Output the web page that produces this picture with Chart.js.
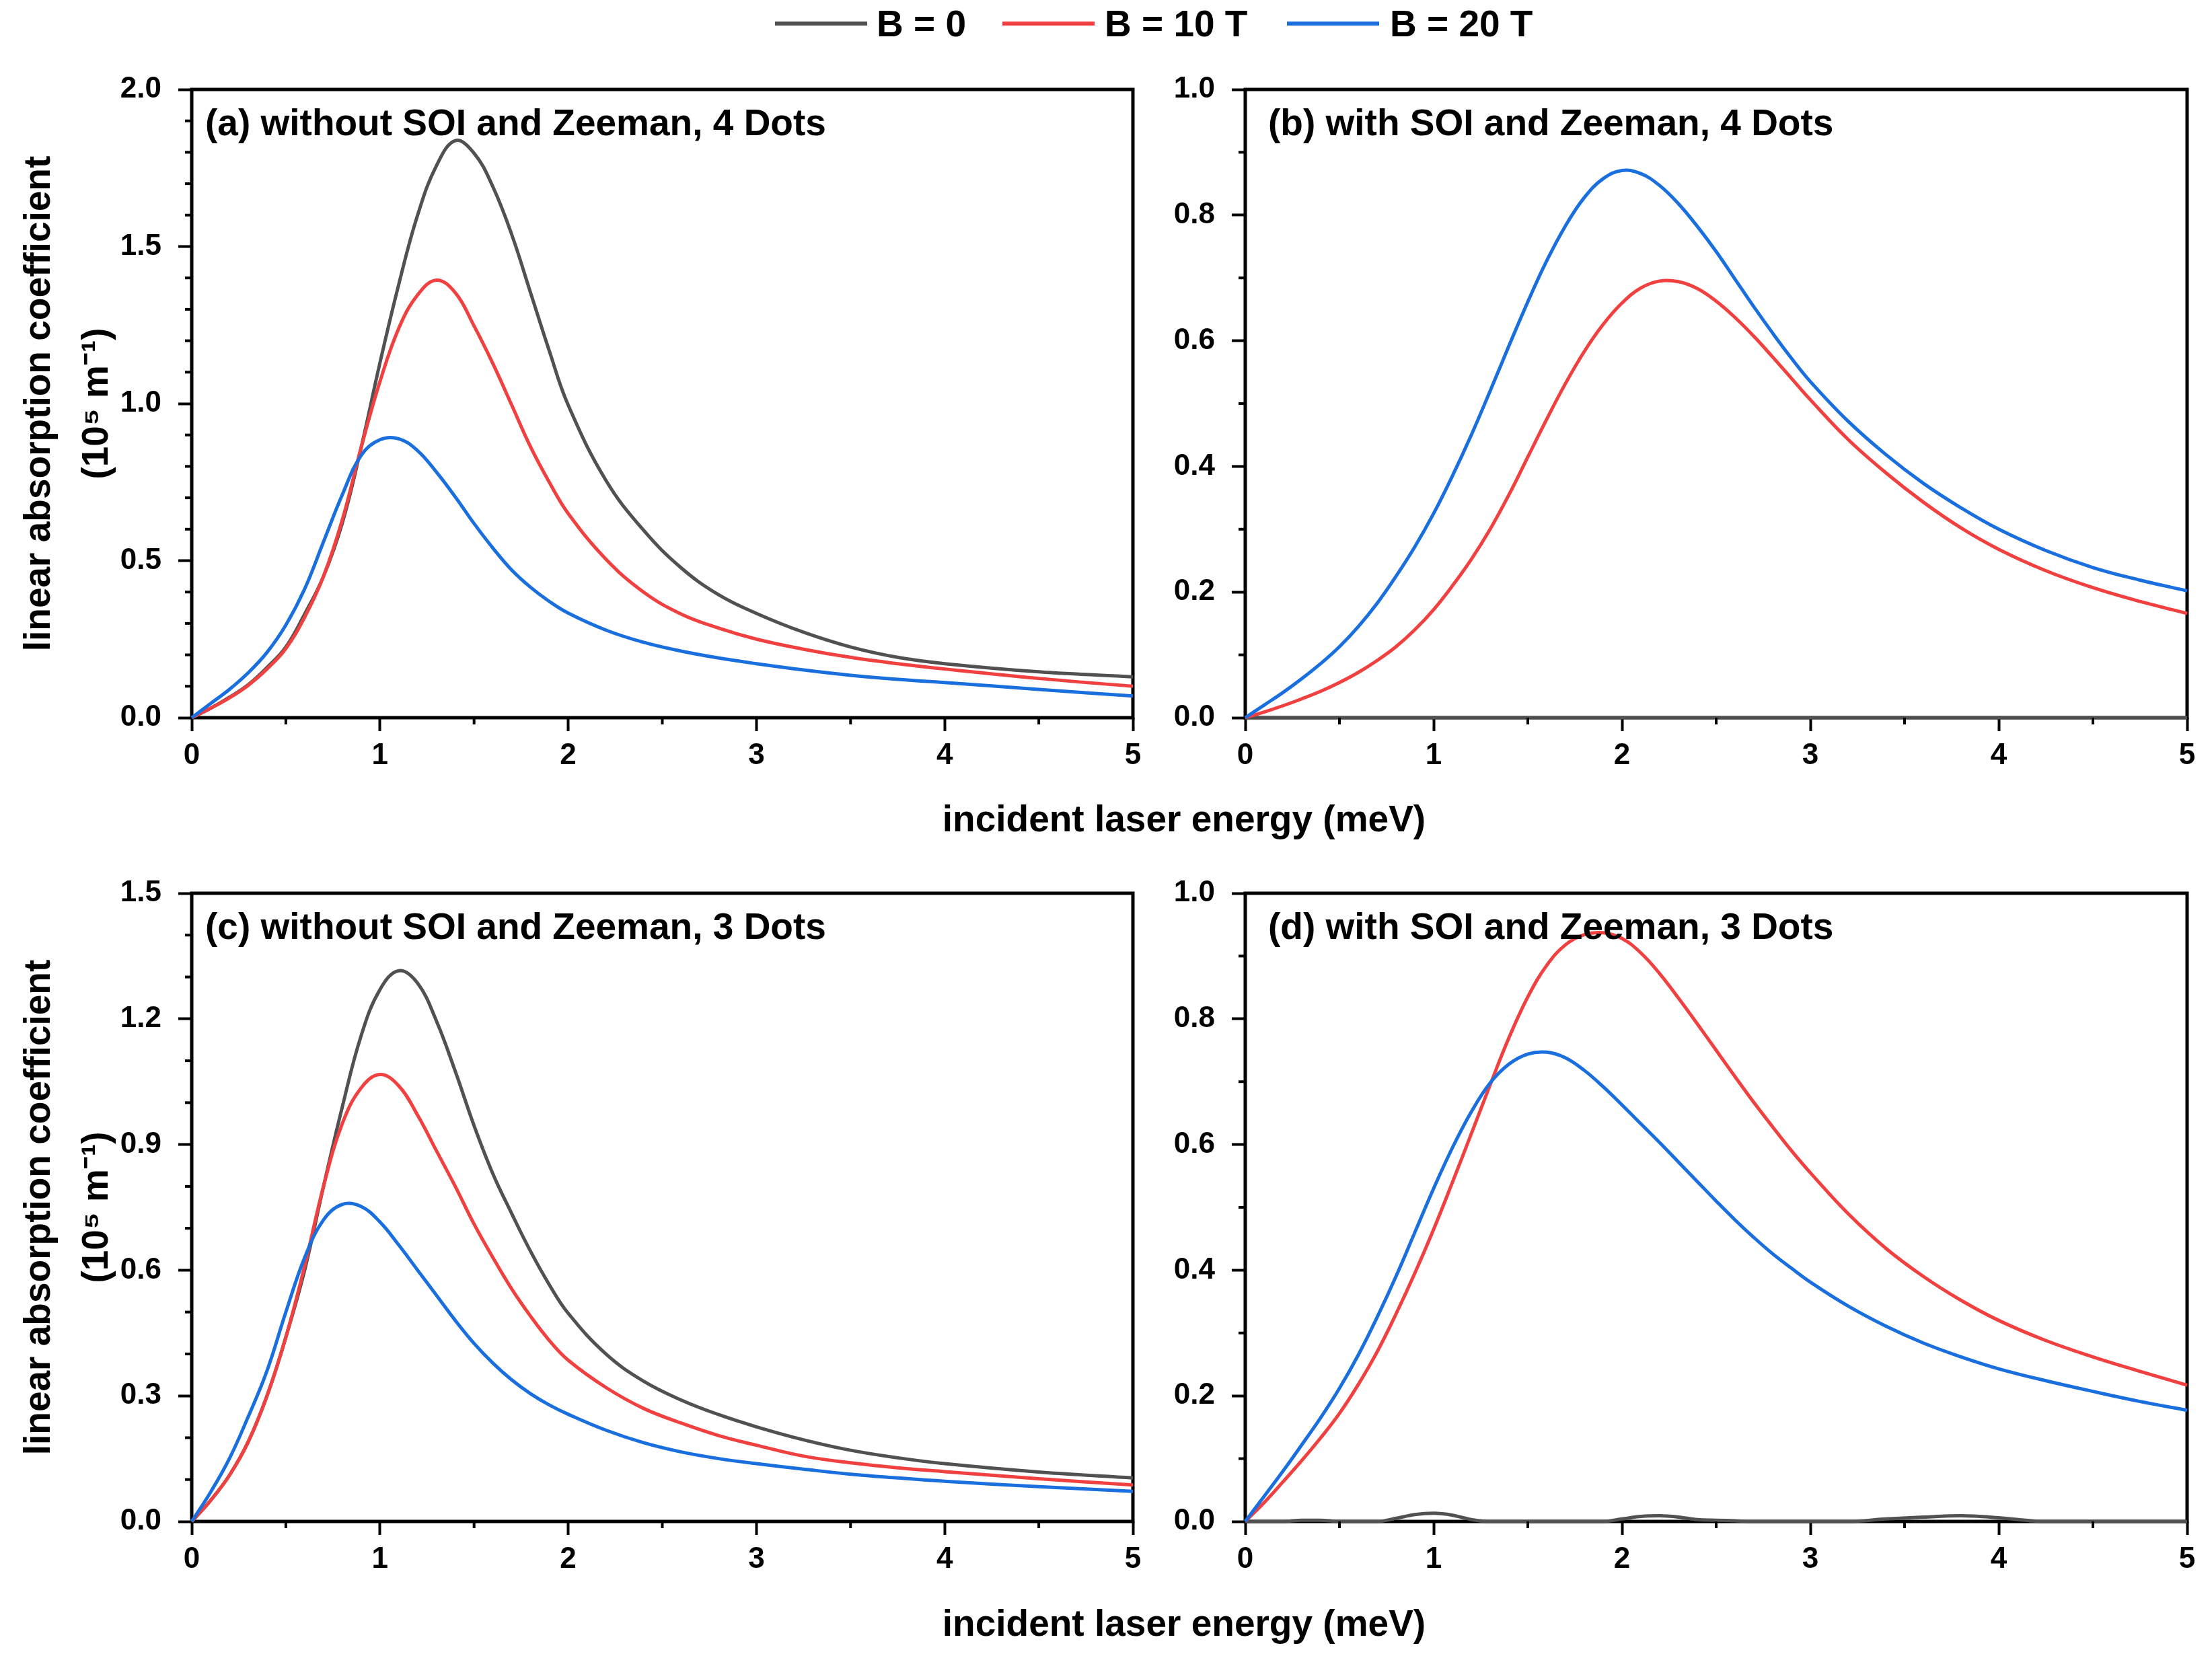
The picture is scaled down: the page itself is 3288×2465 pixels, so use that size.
<!DOCTYPE html>
<html>
<head>
<meta charset="utf-8">
<script src="https://cdn.jsdelivr.net/npm/chart.js@4.4.1/dist/chart.umd.min.js"></script>
<style>
body{margin:0;background:#fff;width:3288px;height:2465px;position:relative;overflow:hidden;
  font-family:"Liberation Sans",Arial,sans-serif;font-weight:bold;color:#000}
.caja{position:absolute}
.texto{position:absolute;font-size:55px;line-height:1;white-space:nowrap}
.linea{position:absolute;height:6px;width:137px;top:32px}
</style>
</head>
<body>

<!-- leyenda comun -->
<div class="linea" style="left:1152px;background:#515151"></div>
<div class="texto" style="left:1303px;top:8px">B = 0</div>
<div class="linea" style="left:1490px;background:#F14040"></div>
<div class="texto" style="left:1642px;top:8px">B = 10 T</div>
<div class="linea" style="left:1913px;background:#1A6FDF"></div>
<div class="texto" style="left:2066px;top:8px">B = 20 T</div>

<div class="caja" style="left:0;top:73px"><canvas id="g_a" width="1724" height="1114"></canvas></div>
<div class="caja" style="left:1651px;top:73px"><canvas id="g_b" width="1637" height="1114"></canvas></div>
<div class="caja" style="left:0;top:1268px"><canvas id="g_c" width="1724" height="1114"></canvas></div>
<div class="caja" style="left:1651px;top:1268px"><canvas id="g_d" width="1637" height="1114"></canvas></div>

<!-- etiquetas de cada panel -->
<div class="texto" style="left:305px;top:155px">(a) without SOI and Zeeman, 4 Dots</div>
<div class="texto" style="left:1885px;top:155px">(b) with SOI and Zeeman, 4 Dots</div>
<div class="texto" style="left:305px;top:1350px">(c) without SOI and Zeeman, 3 Dots</div>
<div class="texto" style="left:1885px;top:1350px">(d) with SOI and Zeeman, 3 Dots</div>

<div class="texto" style="left:1760px;top:1190px;transform:translateX(-50%)">incident laser energy (meV)</div>
<div class="texto" style="left:1760px;top:2386px;transform:translateX(-50%)">incident laser energy (meV)</div>

<script>
// energias (meV) de los paneles (a) y (c)
const x_ac = [0,0.1,0.2,0.3,0.4,0.5,0.6,0.7,0.8,0.9,1.0,1.1,1.2,1.3,1.4,1.5,1.6,1.7,1.8,1.9,2.0,
              2.2,2.4,2.6,2.8,3.0,3.25,3.5,3.75,4.0,4.5,5.0];
// energias (meV) de los paneles (b) y (d)
const x_bd = [0,0.1,0.2,0.3,0.4,0.5,0.6,0.7,0.8,0.9,1.0,1.1,1.2,1.3,1.4,1.5,1.6,1.7,1.8,1.9,2.0,
              2.1,2.2,2.3,2.4,2.5,2.6,2.7,2.8,2.9,3.0,3.2,3.4,3.6,3.8,4.0,4.25,4.5,4.75,5.0];

// (a) sin SOI ni Zeeman, 4 puntos
const a_B0  = [0,0.03,0.065,0.105,0.16,0.225,0.33,0.45,0.62,0.86,1.13,1.38,1.6,1.757,1.837,1.797,1.69,1.538,1.353,1.167,
               0.995,0.756,0.597,0.477,0.391,0.332,0.272,0.225,0.192,0.172,0.146,0.130];
const a_B10 = [0,0.03,0.063,0.103,0.155,0.22,0.32,0.45,0.63,0.86,1.07,1.24,1.346,1.393,1.353,1.247,1.127,0.995,0.862,0.749,
               0.65,0.505,0.40,0.33,0.285,0.25,0.218,0.192,0.172,0.155,0.125,0.10];
const a_B20 = [0,0.045,0.09,0.143,0.208,0.295,0.41,0.56,0.71,0.835,0.885,0.888,0.85,0.782,0.703,0.618,0.54,0.47,0.415,0.37,
               0.333,0.279,0.24,0.212,0.19,0.172,0.152,0.135,0.122,0.112,0.09,0.069];

// (b) con SOI y Zeeman, 4 puntos
const b_B0  = [0,0,0,0,0,0,0,0,0,0,0, 0,0,0,0,0,0,0,0,0,0, 0,0,0,0,0,0,0,0,0,0, 0,0,0,0,0,0,0,0,0];
const b_B10 = [0,0.009,0.019,0.03,0.042,0.056,0.072,0.091,0.113,0.14,0.172,
               0.21,0.252,0.3,0.355,0.415,0.475,0.532,0.583,0.626,0.66,
               0.684,0.695,0.694,0.683,0.663,0.637,0.607,0.574,0.54,0.506,
               0.443,0.39,0.343,0.302,0.268,0.234,0.207,0.185,0.166];
const b_B20 = [0,0.02,0.04,0.062,0.086,0.113,0.145,0.182,0.225,0.272,0.325,
               0.385,0.45,0.52,0.592,0.662,0.727,0.783,0.828,0.858,0.871,
               0.866,0.847,0.818,0.782,0.742,0.698,0.654,0.612,0.572,0.535,
               0.472,0.419,0.373,0.334,0.3,0.266,0.239,0.219,0.202];

// (c) sin SOI ni Zeeman, 3 puntos
const c_B0  = [0,0.05,0.11,0.19,0.3,0.44,0.6,0.8,0.99,1.16,1.27,1.315,1.285,1.195,1.075,0.945,0.83,0.735,0.645,0.565,
               0.497,0.4,0.335,0.29,0.255,0.226,0.195,0.17,0.152,0.138,0.118,0.104];
const c_B10 = [0,0.05,0.11,0.19,0.3,0.44,0.61,0.8,0.95,1.035,1.067,1.04,0.97,0.885,0.8,0.71,0.63,0.555,0.49,0.432,
               0.385,0.32,0.27,0.235,0.205,0.182,0.156,0.14,0.128,0.119,0.102,0.087];
const c_B20 = [0,0.07,0.15,0.25,0.36,0.5,0.63,0.72,0.757,0.752,0.715,0.66,0.6,0.54,0.48,0.425,0.378,0.338,0.305,0.278,
               0.256,0.218,0.188,0.166,0.15,0.138,0.125,0.113,0.104,0.096,0.083,0.072];

// (d) con SOI y Zeeman, 3 puntos
const d_B0  = [0,0,0,0.002,0.002,0,0,0,0.005,0.011,0.013,
               0.01,0.003,0,0,0,0,0,0,0,0.004,
               0.008,0.009,0.007,0.003,0.002,0.001,0,0,0,0,
               0,0.004,0.007,0.009,0.006,0,0,0,0];
const d_B10 = [0,0.03,0.063,0.097,0.133,0.172,0.218,0.27,0.33,0.395,0.465,
               0.54,0.617,0.695,0.77,0.835,0.885,0.918,0.934,0.937,0.928,
               0.905,0.872,0.833,0.792,0.75,0.708,0.667,0.628,0.59,0.555,
               0.49,0.435,0.39,0.352,0.32,0.288,0.262,0.239,0.217];
const d_B20 = [0,0.04,0.08,0.122,0.165,0.212,0.265,0.325,0.39,0.46,0.53,
               0.595,0.652,0.698,0.728,0.744,0.747,0.738,0.718,0.692,0.663,
               0.633,0.603,0.572,0.541,0.51,0.48,0.452,0.426,0.403,0.381,
               0.343,0.311,0.284,0.262,0.243,0.224,0.207,0.191,0.177];

// ticks
const x_mayor = [0,1,2,3,4,5];
const x_menor = [0.5,1.5,2.5,3.5,4.5];
const y_mayor_a = [0,0.5,1.0,1.5,2.0];
const y_mayor_b = [0,0.2,0.4,0.6,0.8,1.0];
const y_mayor_c = [0,0.3,0.6,0.9,1.2,1.5];
const y_mayor_d = [0,0.2,0.4,0.6,0.8,1.0];
const y_menor_a = [0.1,0.2,0.3,0.4,0.6,0.7,0.8,0.9,1.1,1.2,1.3,1.4,1.6,1.7,1.8,1.9];
const y_menor_b = [0.1,0.3,0.5,0.7,0.9];
const y_menor_c = [0.1,0.2,0.4,0.5,0.7,0.8,1.0,1.1,1.3,1.4];
const y_menor_d = [0.1,0.3,0.5,0.7,0.9];

const nombres = ['B = 0','B = 10 T','B = 20 T'];
const colores = ['#515151','#F14040','#1A6FDF'];
const fuente = {family:'"Liberation Sans", Arial, sans-serif', weight:'bold', size:44};

function puntos(xs, ys){
    return xs.map((x,i)=>({x:x, y:ys[i]}));
}

// marco negro alrededor del area
const marco = {
    id:'marco',
    beforeDatasetsDraw(chart){
        const a = chart.chartArea, ctx = chart.ctx;
        ctx.save();
        ctx.lineWidth = 5;
        ctx.strokeStyle = '#000';
        ctx.strokeRect(a.left, a.top, a.right-a.left, a.bottom-a.top);
        ctx.restore();
    }
};

// ticks menores (cortos)
const menores = {
    id:'menores',
    afterDraw(chart, args, op){
        const a = chart.chartArea, ctx = chart.ctx;
        const sx = chart.scales.x, sy = chart.scales.y;
        ctx.save();
        ctx.lineWidth = 4;
        ctx.strokeStyle = '#000';
        op.x.forEach(v=>{
            const px = sx.getPixelForValue(v);
            ctx.beginPath(); ctx.moveTo(px, a.bottom); ctx.lineTo(px, a.bottom+10); ctx.stroke();
        });
        op.y.forEach(v=>{
            const py = sy.getPixelForValue(v);
            ctx.beginPath(); ctx.moveTo(a.left, py); ctx.lineTo(a.left-10, py); ctx.stroke();
        });
        ctx.restore();
    }
};

// planos: true cuando la serie B = 0 es casi cero (se dibuja monotona)
function grafico(id, xs, datos, ymax, ymayor, ymenor, izquierda, planos){
    const ctx = document.getElementById(id);
    const conjuntos = datos.map((ys,i)=>({
        label: nombres[i],
        data: puntos(xs, ys),
        borderColor: colores[i],
        borderWidth: 5,
        pointRadius: 0,
        tension: 0.4,
        cubicInterpolationMode: (planos && i==0) ? 'monotone' : 'default',
        clip: 10,
        order: 3-i
    }));
    return new Chart(ctx, {
        type:'line',
        data:{datasets: conjuntos},
        plugins:[marco, menores],
        options:{
            responsive:false,
            animation:false,
            devicePixelRatio:1,
            layout:{padding:{left:0, right: izquierda ? 40 : 37, top:60, bottom:0}},
            plugins:{
                legend:{display:false},
                tooltip:{enabled:false},
                menores:{x:x_menor, y:ymenor}
            },
            scales:{
                x:{
                    type:'linear', min:0, max:5,
                    afterBuildTicks: s=>{ s.ticks = x_mayor.map(v=>({value:v})); },
                    afterFit: s=>{ s.height = 120; },
                    grid:{drawOnChartArea:false, tickLength:20, tickWidth:4, tickColor:'#000'},
                    border:{display:false},
                    ticks:{color:'#000', font:fuente, padding:10, maxRotation:0,
                           callback: v=>String(v)}
                },
                y:{
                    type:'linear', min:0, max:ymax,
                    afterBuildTicks: s=>{ s.ticks = ymayor.map(v=>({value:v})); },
                    afterFit: s=>{ s.width = izquierda ? 285 : 200; },
                    grid:{drawOnChartArea:false, tickLength:20, tickWidth:4, tickColor:'#000'},
                    border:{display:false},
                    ticks:{color:'#000', font:fuente, padding:25,
                           callback: v=>Number(v).toFixed(1)},
                    title:{
                        display: izquierda,
                        text:['linear absorption coefficient','(10\u2075 m\u207B\u00B9)'],
                        color:'#000',
                        font:{family:'"Liberation Sans", Arial, sans-serif', weight:'bold', size:55, lineHeight:1.56},
                        padding:{top:16, bottom:0}
                    }
                }
            }
        }
    });
}

grafico('g_a', x_ac, [a_B0,a_B10,a_B20], 2.0, y_mayor_a, y_menor_a, true, false);
grafico('g_b', x_bd, [b_B0,b_B10,b_B20], 1.0, y_mayor_b, y_menor_b, false, true);
grafico('g_c', x_ac, [c_B0,c_B10,c_B20], 1.5, y_mayor_c, y_menor_c, true, false);
grafico('g_d', x_bd, [d_B0,d_B10,d_B20], 1.0, y_mayor_d, y_menor_d, false, true);
</script>
</body>
</html>
